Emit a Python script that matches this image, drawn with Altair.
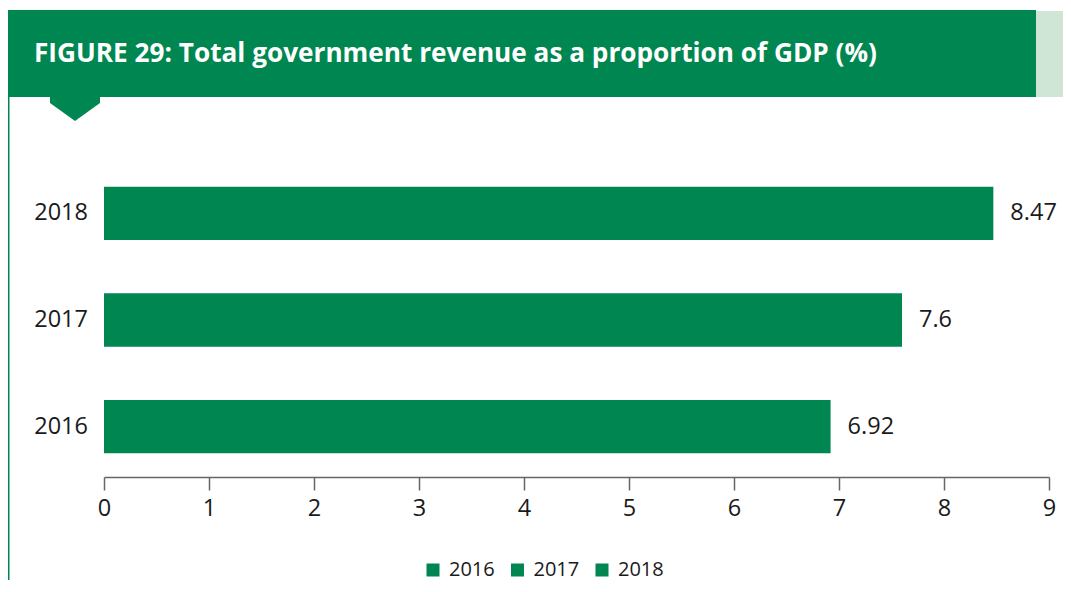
import altair as alt
import pandas as pd

years = ["2016", "2017", "2018"]
values = [6.92, 7.6, 8.47]
value_labels = ["6.92", "7.6", "8.47"]
x_ticks = [0, 1, 2, 3, 4, 5, 6, 7, 8, 9]
title_text = "FIGURE 29: Total government revenue as a proportion of GDP (%)"

GREEN = "#008751"
LIGHT = "#cfe6d6"
FONT = "Open Sans"

df = pd.DataFrame({"year": years, "value": values, "label": value_labels})
one = pd.DataFrame({"k": [0]})

y_enc = alt.Y(
    "year:N",
    axis=None,
    sort=["2018", "2017", "2016"],
    scale=alt.Scale(domain=["2018", "2017", "2016"], range=[155, 469],
                    paddingInner=0.5, paddingOuter=0.224),
)
x_scale = alt.Scale(domain=[0, 9], range=[96, 1041], nice=False, zero=True)

header = alt.Chart(one).mark_rect(color=GREEN).encode(
    x=alt.value(0), x2=alt.value(1028), y=alt.value(2), y2=alt.value(89)
)
strip = alt.Chart(one).mark_rect(color=LIGHT).encode(
    x=alt.value(1028), x2=alt.value(1055), y=alt.value(3), y2=alt.value(89)
)
tri = alt.Chart(one).mark_point(
    shape="M-1,-0.48L1,-0.48L1,-0.24L0,0.48L-1,-0.24Z",
    filled=True, color=GREEN, opacity=1, size=2500, strokeWidth=0,
).encode(x=alt.value(67), y=alt.value(101))
left_line = alt.Chart(one).mark_rule(color=GREEN, strokeWidth=1.5).encode(
    x=alt.value(0.75), y=alt.value(89), y2=alt.value(572)
)
title = alt.Chart(one).mark_text(
    text=title_text, font=FONT, fontSize=26.2, fontWeight="bold", color="white",
    align="left", baseline="alphabetic",
).encode(x=alt.value(26), y=alt.value(54))

bars = alt.Chart(df).mark_bar().encode(
    x=alt.X("value:Q", scale=x_scale,
            axis=alt.Axis(values=x_ticks, title=None, grid=False, format="d",
                          labelFontSize=23.5, labelFont=FONT, labelColor="#1a1a1a",
                          labelFlush=False,
                          tickSize=13, tickColor="#666666", domainColor="#666666",
                          domainWidth=1.5, tickWidth=1.5, labelPadding=6)),
    y=y_enc,
    color=alt.Color(
        "year:N",
        scale=alt.Scale(domain=years, range=[GREEN, GREEN, GREEN]),
        legend=alt.Legend(
            orient="none", legendX=415, legendY=552, direction="horizontal",
            title=None, symbolType="square", symbolSize=169, symbolStrokeWidth=0,
            labelFontSize=20, labelFont=FONT, labelColor="#1a1a1a",
            labelOffset=6, columnPadding=12.5, padding=0,
        ),
    ),
)
vals = alt.Chart(df).mark_text(
    align="left", baseline="middle", dx=17, fontSize=23.5, font=FONT, color="#1a1a1a"
).encode(x=alt.X("value:Q", scale=x_scale), y=y_enc, text="label:N")
ylabels = alt.Chart(df).mark_text(
    align="right", baseline="middle", fontSize=23.5, font=FONT, color="#1a1a1a"
).encode(x=alt.value(80), y=y_enc, text="year:N")

chart = alt.layer(header, strip, tri, left_line, title, bars, vals, ylabels).properties(
    width=1055, height=469, padding=0
).configure_view(stroke=None)

chart.save("out.html", embed_options={"renderer": "svg", "actions": False})
